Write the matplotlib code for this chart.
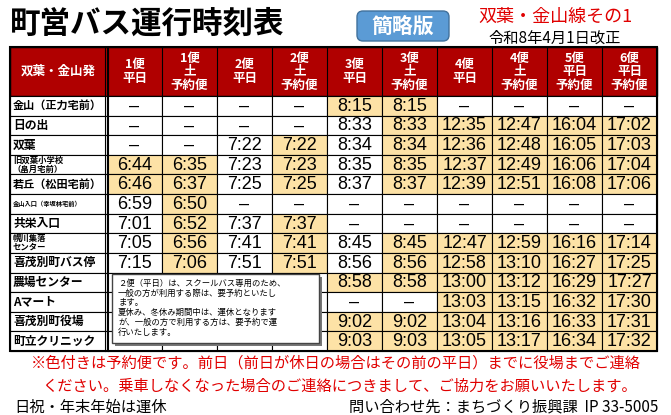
import matplotlib
matplotlib.use("Agg")
import matplotlib.pyplot as plt
from matplotlib.patches import Rectangle, FancyBboxPatch

plt.rcParams['font.family'] = ['Noto Sans CJK JP', 'DejaVu Sans']

stops = ["金山（正力宅前）", "日の出", "双葉", "旧双葉小学校\n（畠月宅前）", "若丘（松田宅前）",
         "金山入口（幸坂林宅前）", "共栄入口", "幌川集落\nセンター", "喜茂別町バス停",
         "農場センター", "Aマート", "喜茂別町役場", "町立クリニック"]
label_sizes = [8, 8.5, 8.5, 6, 8, 4.5, 8.5, 6, 8.5, 8.5, 8.5, 8.5, 8.5]
headers = ["1便\n平日", "1便\n土\n予約便", "2便\n平日", "2便\n土\n予約便", "3便\n平日",
           "3便\n土\n予約便", "4便\n平日", "4便\n土\n予約便", "5便\n平日\n予約便", "6便\n平日\n予約便"]
D = "–"
times = [
    [D, D, D, D, "8:15", "8:15", D, D, D, D],
    [D, D, D, D, "8:33", "8:33", "12:35", "12:47", "16:04", "17:02"],
    [D, D, "7:22", "7:22", "8:34", "8:34", "12:36", "12:48", "16:05", "17:03"],
    ["6:44", "6:35", "7:23", "7:23", "8:35", "8:35", "12:37", "12:49", "16:06", "17:04"],
    ["6:46", "6:37", "7:25", "7:25", "8:37", "8:37", "12:39", "12:51", "16:08", "17:06"],
    ["6:59", "6:50", D, D, D, D, D, D, D, D],
    ["7:01", "6:52", "7:37", "7:37", D, D, D, D, D, D],
    ["7:05", "6:56", "7:41", "7:41", "8:45", "8:45", "12:47", "12:59", "16:16", "17:14"],
    ["7:15", "7:06", "7:51", "7:51", "8:56", "8:56", "12:58", "13:10", "16:27", "17:25"],
    [D, D, D, D, "8:58", "8:58", "13:00", "13:12", "16:29", "17:27"],
    [D, D, D, D, D, D, "13:03", "13:15", "16:32", "17:30"],
    [D, D, D, D, "9:02", "9:02", "13:04", "13:16", "16:33", "17:31"],
    [D, D, D, D, "9:03", "9:03", "13:05", "13:17", "16:34", "17:32"],
]
reserved = [
    "0000110000", "0000011111", "0001011111", "1101011111", "1101011111",
    "0100000000", "0101000000", "0101011111", "0101011111", "0000111111",
    "0000001111", "0000111111", "0000111111",
]

fig = plt.figure(figsize=(6.71, 4.15), dpi=100)
ax = fig.add_axes([0, 0, 1, 1])
ax.set_xlim(0, 671); ax.set_ylim(415, 0); ax.axis("off")

RED = "#B00000"; HL = "#FDE2A6"
x0, xl = 10, 107
cw = 55.0
ncol = 10
top, hbot = 47, 96
rh = (351 - hbot) / 13
xs = [xl + i * cw for i in range(ncol + 1)]

ax.add_patch(Rectangle((x0, top), xs[-1] - x0, hbot - top, fc=RED, ec="black", lw=1))
ax.text((x0 + xl) / 2, (top + hbot) / 2, "双葉・金山発", color="white", fontsize=9,
        fontweight="bold", ha="center", va="center")
for i, h in enumerate(headers):
    ax.text(xs[i] + cw / 2, (top + hbot) / 2, h, color="white", fontsize=9, fontweight="bold",
            ha="center", va="center", linespacing=1.05)
    ax.plot([xs[i], xs[i]], [top, hbot], color="black", lw=0.8)

for r, stop in enumerate(stops):
    y = hbot + r * rh
    ax.add_patch(Rectangle((x0, y), xl - x0, rh, fc="white", ec="black", lw=0.8))
    ax.text(x0 + 3, y + rh / 2, stop, fontsize=label_sizes[r], fontweight="bold",
            ha="left", va="center", linespacing=1.0)
    for c in range(ncol):
        fc = HL if reserved[r][c] == "1" else "white"
        ax.add_patch(Rectangle((xs[c], y), cw, rh, fc=fc, ec="black", lw=0.8))
        if r >= 9 and c < 4:
            continue  # hidden behind the note box
        ax.text(xs[c] + cw / 2, y + rh / 2 + 0.5, times[r][c], fontsize=13,
                family=["Liberation Sans", "DejaVu Sans"], ha="center", va="center")
ax.plot([xl - 2, xl - 2], [top, 351], color="black", lw=0.8)
ax.plot([xl + 1, xl + 1], [top, 351], color="black", lw=0.8)
ax.add_patch(Rectangle((x0, top), xs[-1] - x0, 351 - top, fill=False, ec="black", lw=1.5))

ax.add_patch(Rectangle((115, 277), 207, 69, fc="#777777", ec="none"))
ax.add_patch(Rectangle((112, 274), 207, 69, fc="white", ec="#444444", lw=1))
ax.text(118, 279, "２便（平日）は、スクールバス専用のため、\n一般の方が利用する際は、要予約といたし\nます。\n夏休み、冬休み期間中は、運休となります\nが、一般の方で利用する方は、要予約で運\n行いたします。",
        fontsize=6, ha="left", va="top", linespacing=1.1)

ax.text(10, 24, "町営バス運行時刻表", fontsize=22, fontweight="bold", ha="left", va="center")
ax.add_patch(FancyBboxPatch((357, 11), 92, 30, boxstyle="round,pad=0,rounding_size=6",
                            fc="#5B9BD5", ec="#41719C", lw=1))
ax.text(403, 26, "簡略版", fontsize=15, fontweight="bold", color="white", ha="center", va="center")
ax.text(555, 17, "双葉・金山線その1", fontsize=13, color="#E00000", ha="center", va="center")
ax.text(555, 38, "令和8年4月1日改正", fontsize=11, color="black", ha="center", va="center")

ax.text(336, 363, "※色付きは予約便です。前日（前日が休日の場合はその前の平日）までに役場までご連絡",
        fontsize=11, color="#E00000", ha="center", va="center")
ax.text(340, 386, "ください。乗車しなくなった場合のご連絡につきまして、ご協力をお願いいたします。",
        fontsize=11, color="#E00000", ha="center", va="center")
ax.text(14, 407, "日祝・年末年始は運休", fontsize=11, ha="left", va="center")
ax.text(658, 407, "問い合わせ先：まちづくり振興課  IP 33-5005", fontsize=11, ha="right", va="center")

fig.savefig("out.png", dpi=100)
